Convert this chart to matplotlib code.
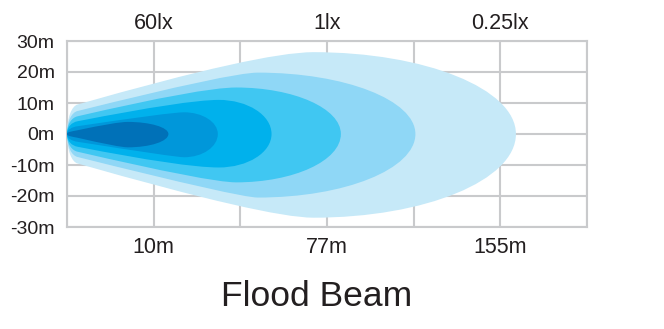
import matplotlib.pyplot as plt
from matplotlib.path import Path
from matplotlib.patches import PathPatch

plt.rcParams['font.family'] = ['Liberation Sans', 'DejaVu Sans']

# beam contours, outermost first (x in grid cells, y in metres)
reach = [5.18, 4.02, 3.16, 2.36, 1.74, 1.17]
peak_x = [2.84, 2.20, 1.95, 1.75, 1.35, 0.70]
width_top = [26.4, 19.8, 15.0, 11.0, 7.0, 3.9]
width_bottom = [27.0, 20.5, 15.6, 10.8, 7.5, 4.3]
front_width = [9.5, 7.4, 5.7, 4.1, 2.5, 1.2]
front_slope = [8.0, 7.0, 6.5, 5.5, 4.2, 6.0]
colors = ['#c6e9f8', '#8fd7f6', '#40c7f2', '#00b1ec', '#0097da', '#0071b8']

y_ticks = [30, 20, 10, 0, -10, -20, -30]
y_labels = ['30m', '20m', '10m', '0m', '-10m', '-20m', '-30m']
dist_pos = [1, 3, 5]
dist_labels = ['10m', '77m', '155m']
lux_labels = ['60lx', '1lx', '0.25lx']

text_color = '#231f20'
grid_color = '#c9cacc'


def beam(L, xm, wt, wb, w0, s):
    x0 = 0.12
    k = 0.5523
    xct = min(x0 + (wt - w0) / s, xm - 0.1)
    xcb = min(x0 + (wb - w0) / s, xm - 0.1)
    verts = [(0, 0),
             (0, 0.6 * w0), (0.5 * x0, w0 - s * 0.5 * x0), (x0, w0),
             (xct, wt), (xm, wt),
             (xm + k * (L - xm), wt), (L, k * wt), (L, 0),
             (L, -k * wb), (xm + k * (L - xm), -wb), (xm, -wb),
             (xcb, -wb), (x0, -w0),
             (0.5 * x0, -w0 + s * 0.5 * x0), (0, -0.6 * w0), (0, 0)]
    codes = [Path.MOVETO,
             Path.CURVE4, Path.CURVE4, Path.CURVE4,
             Path.CURVE3, Path.CURVE3,
             Path.CURVE4, Path.CURVE4, Path.CURVE4,
             Path.CURVE4, Path.CURVE4, Path.CURVE4,
             Path.CURVE3, Path.CURVE3,
             Path.CURVE4, Path.CURVE4, Path.CURVE4]
    return Path(verts, codes)


fig = plt.figure(figsize=(6.64, 3.29), dpi=100)
ax = fig.add_axes([67 / 664, 1 - 227 / 329, 520 / 664, 186 / 329])

for i in range(len(reach)):
    p = beam(reach[i], peak_x[i], width_top[i], width_bottom[i],
             front_width[i], front_slope[i])
    ax.add_patch(PathPatch(p, facecolor=colors[i], edgecolor='none', zorder=2))

ax.set_xlim(0, 6)
ax.set_ylim(-30, 30)
ax.set_xticks(range(7))
ax.set_yticks(y_ticks)
ax.set_yticklabels(y_labels)
ax.set_xticklabels([])
ax.tick_params(length=0, labelsize=14, colors=text_color, pad=9)
ax.grid(True, color=grid_color, linewidth=1.5, zorder=0)
ax.set_axisbelow(True)
for sp in ax.spines.values():
    sp.set_color(grid_color)
    sp.set_linewidth(1.5)
    sp.set_zorder(0)

for i in range(len(dist_pos)):
    ax.text(dist_pos[i], -33.3, dist_labels[i], ha='center', va='top',
            fontsize=15.5, color=text_color)
    ax.text(dist_pos[i], 32.3, lux_labels[i], ha='center', va='bottom',
            fontsize=15.5, color=text_color)

fig.text(317 / 664, 1 - 296 / 329, 'Flood Beam', ha='center', va='center',
         fontsize=25.5, color=text_color)

fig.savefig('out.png', dpi=100)
